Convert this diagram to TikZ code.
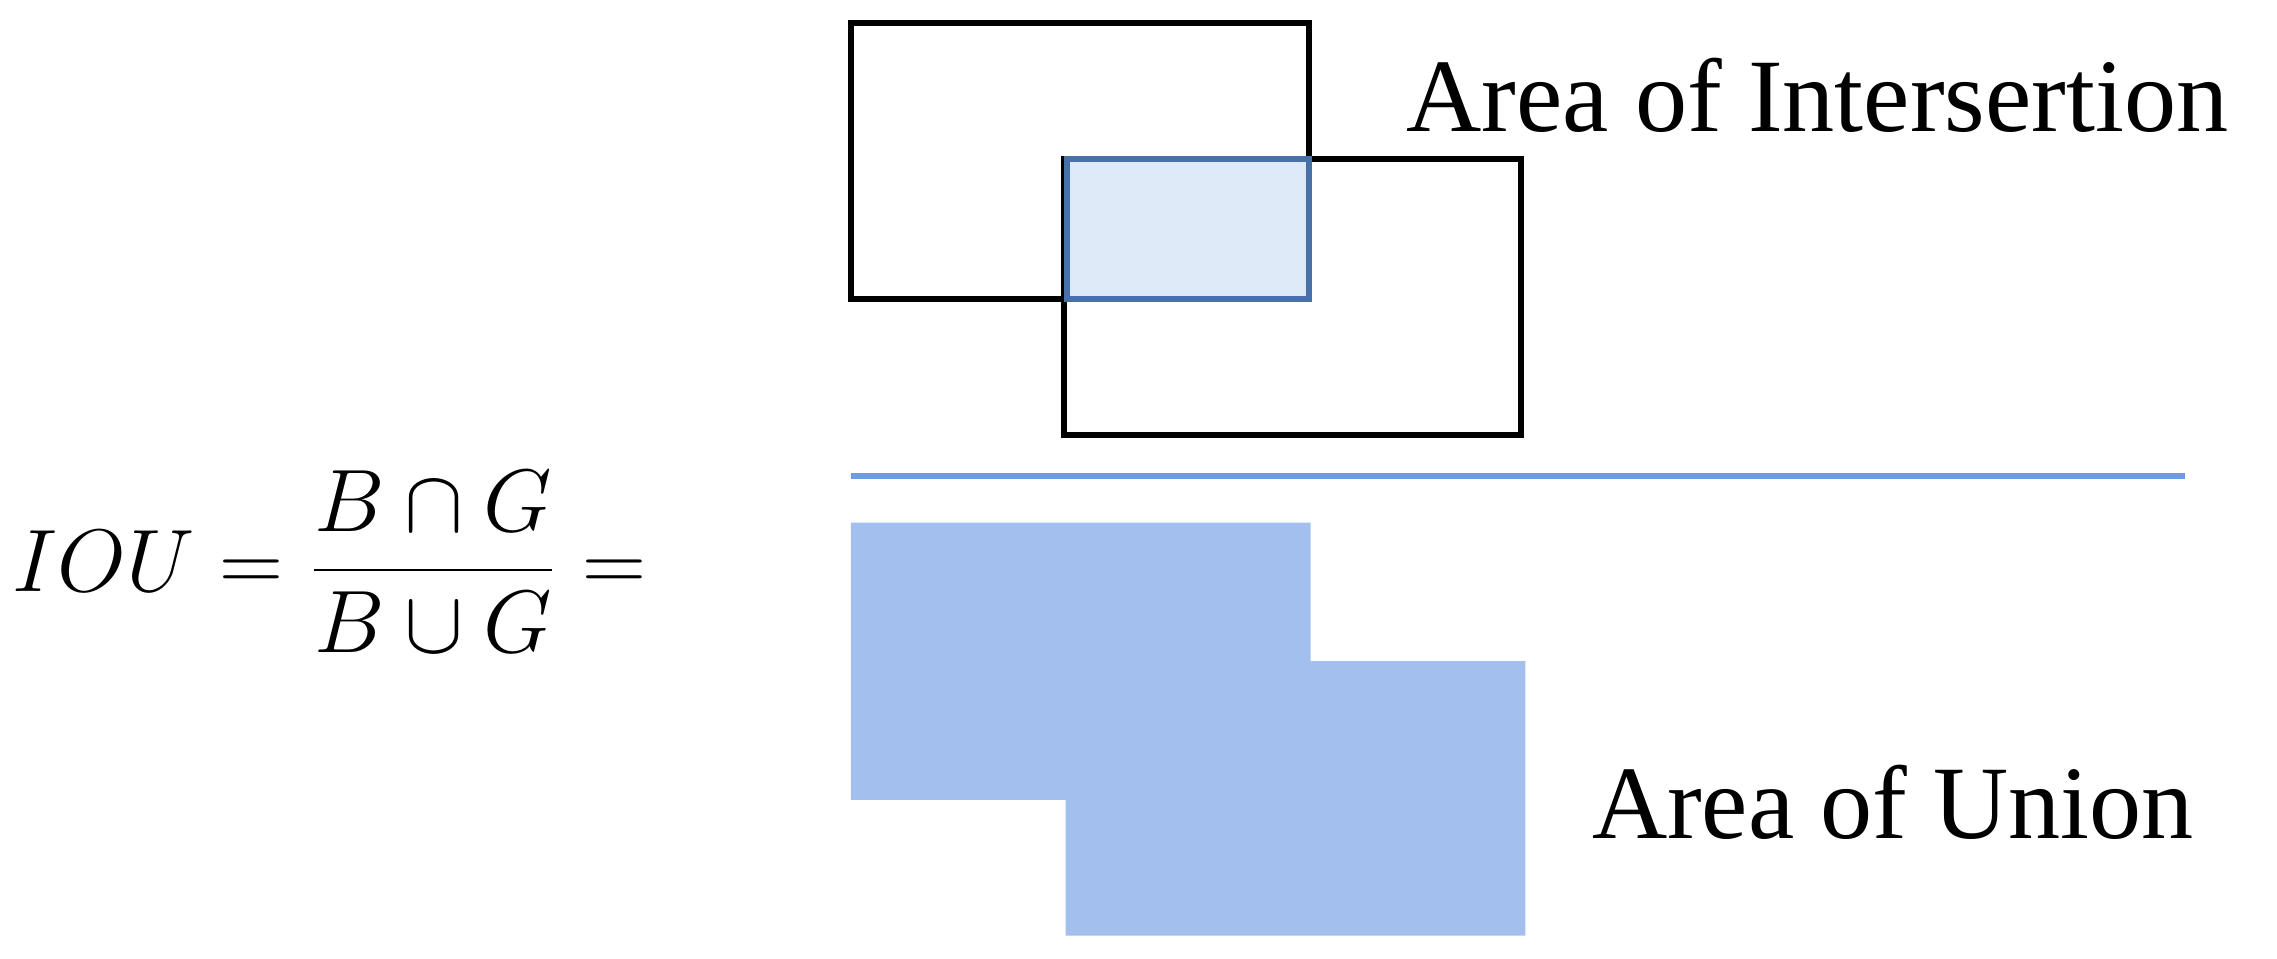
\documentclass[tikz,border=0pt]{standalone}
\usepackage{fontspec}
\setmainfont{Liberation Serif}
\definecolor{interfill}{HTML}{DFEAF9}
\definecolor{interdraw}{HTML}{4A70A8}
\definecolor{unionfill}{HTML}{A2BFEE}
\definecolor{barline}{HTML}{6E9BE2}
\tikzset{
  box/.style={draw=black, line width=1.2pt},
  lbl/.style={inner sep=0pt, font=\fontsize{20.3}{24}\selectfont}
}
\begin{document}
\begin{tikzpicture}[x=0.01cm, y=-0.01cm]
    \useasboundingbox (0,0) rectangle (1560,657);

    % Cajas B y G
    \draw[box] (583,16) rectangle (897,205);
    \draw[box] (729,109) rectangle (1042,298);
    \draw[fill=interfill, draw=interdraw, line width=1.2pt] (731,109) rectangle (897,205);
    \node[lbl, anchor=west] (inter) at (963,65) {Area of Intersertion};

    % Linea de fraccion
    \coordinate (barl) at (583,326);
    \coordinate (barr) at (1497,326);
    \draw[barline, line width=1.3pt] (barl) -- (barr);

    % Union
    \fill[unionfill] (583,358) -- (898,358) -- (898,453) -- (1045,453)
      -- (1045,641) -- (730,641) -- (730,548) -- (583,548) -- cycle;
    \node[lbl, anchor=west] (union) at (1090,550) {Area of Union};

    % Formula
    \node[inner sep=0pt, anchor=west, font=\fontsize{18}{21}\selectfont] (iou) at (8,385)
      {$\displaystyle IOU=\frac{B\cap G}{B\cup G}=$};
\end{tikzpicture}
\end{document}
